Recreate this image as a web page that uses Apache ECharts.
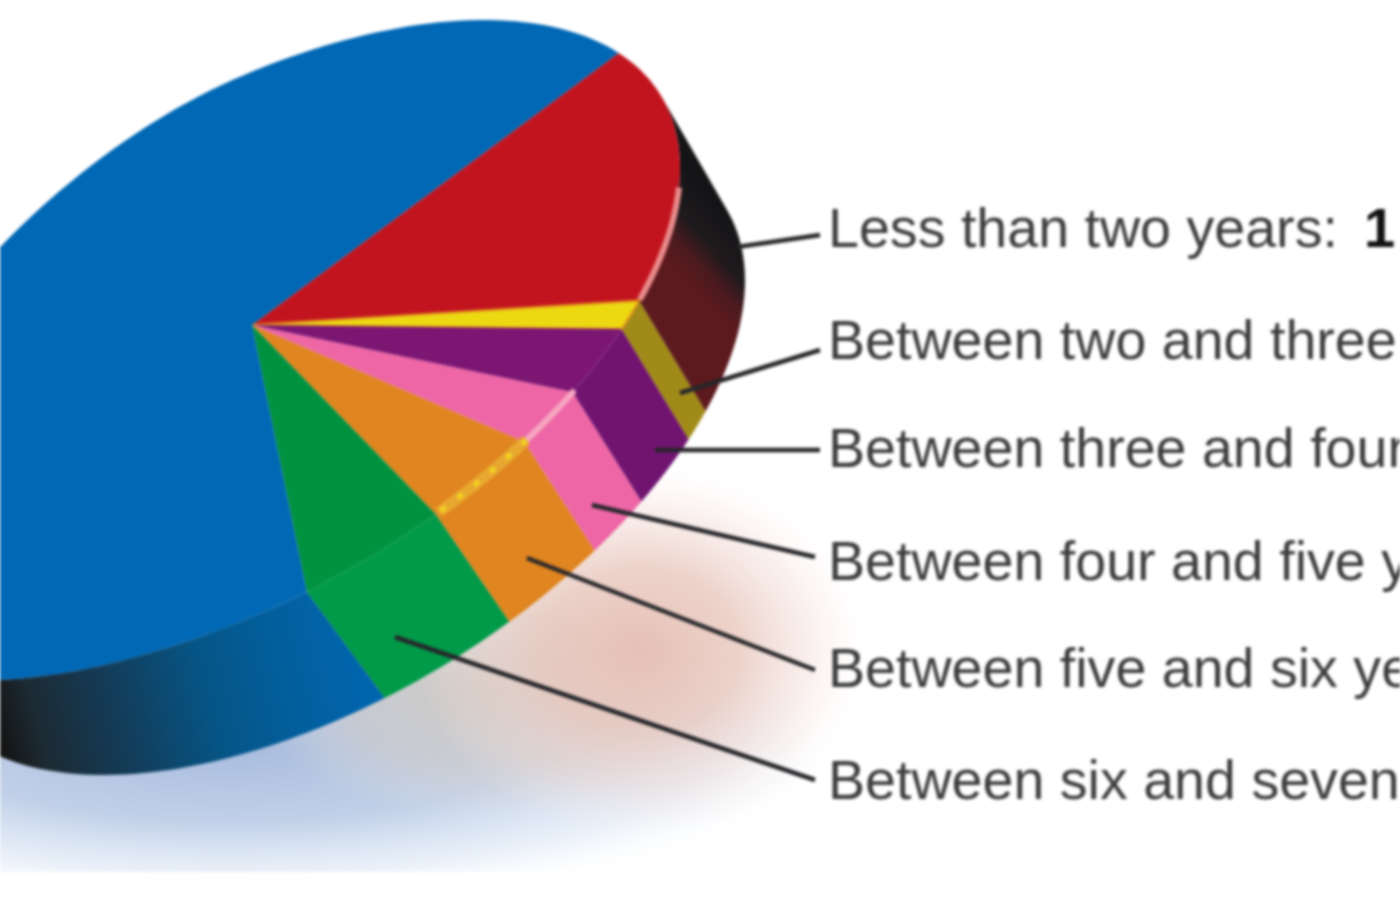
<!DOCTYPE html>
<html>
<head>
<meta charset="utf-8">
<style>html,body{margin:0;padding:0;background:#fff;overflow:hidden}#main{width:1400px;height:900px;filter:blur(1.4px)}</style>
<script src="https://cdn.jsdelivr.net/npm/echarts@6/dist/echarts.min.js"></script>
</head>
<body>
<div id="main"></div>
<script>
// Data (share of the pie, percent), clockwise from the red slice
var sliceNames = ['Less than two years','Between two and three','Between three and four','Between four and five','Between five and six','Between six and seven','Remainder'];
var sliceShares = [15.6, 1.4, 3.1, 2.5, 3.9, 5.0, 68.5];
// Label texts as far as they can be read before the picture's right edge
var labelTexts = ['Less than two years:','Between two and three','Between three and four','Between four and five y','Between five and six ye','Between six and seven'];
var firstValueText = '1';

// Styles and geometry (not data)
var topColors  = ['#c2141f','#ecd912','#7c1673','#ee66a6','#e0851f','#00923f','#0068b5'];
var wallColors = ['#5c1a1e','#a08a18','#701470','#ee66a6','#e0851f','#009a48','#0068b5'];
var rimColors  = ['#ea8a8a',null,null,'#f6a6c0','#e8a830',null,null];
var rimT = [[-4,-25],null,null,[-41,-50],[-50,-64],null,null];
var startT = 31, APEX = [252, 325];
var WALL_FROM = 17, WALL_TO = -163;
var TOP = {cx:250, cy:345, ax:430, ay:325, phi:33, kUp:62, kDn:30};
var BOT = {cx:330, cy:455, ax:415, ay:320, phi:33, kUp:0, kDn:0};
var leaderFrom = [[737,247],[680,393],[655,450],[592,505],[527,558],[395,637]];
var leaderTo   = [[820,235],[820,350],[820,450],[815,557],[815,670],[815,780]];
var baselines  = [232,344,452,565,672,784];

var R = Math.PI/180;
function pt(E, t){
  var c = Math.cos(t*R), k = Math.sin(t*R) > 0 ? E.kUp : E.kDn, m = Math.max(0,-c);
  return [E.cx + E.ax*c, E.cy - E.ay*Math.sin((t+E.phi)*R) + k*m*m];
}
function arc(E, a, b){
  var n = Math.max(2, Math.ceil(Math.abs(a-b)/1.5)), out = [];
  for (var i=0;i<=n;i++) out.push(pt(E, a+(b-a)*i/n));
  return out;
}
var total = sliceShares.reduce(function(s,v){return s+v;},0), acc = 0;
var sliceData = sliceShares.map(function(v,i){
  var a = startT - acc/total*360; acc += v;
  return [a, startT - acc/total*360, i];
});

function wallFill(i){
  if (i===0) return new echarts.graphic.LinearGradient(745,235,690,285,[
    {offset:0,color:'#141416'},{offset:.45,color:'#1f1a1d'},{offset:.72,color:'#4a1a1e'},{offset:1,color:'#5c1a1e'}],true);
  if (i===6) return new echarts.graphic.LinearGradient(0,740,383,640,[
    {offset:0,color:'#141414'},{offset:.1,color:'#1c2a33'},{offset:.3,color:'#133c58'},
    {offset:.55,color:'#055688'},{offset:.8,color:'#0261a2'},{offset:1,color:'#0067b2'}],true);
  return wallColors[i];
}

function mapPts(api, pts){ return pts.map(function(p){ return api.coord(p); }); }

var option = {
  animation:false,
  backgroundColor:'#fff',
  grid:{left:0,right:0,top:0,bottom:0},
  xAxis:{type:'value',min:0,max:1400,show:false},
  yAxis:{type:'value',min:0,max:900,inverse:true,show:false},
  series:[
    {type:'custom',silent:true,clip:true,z:1,data:[[0]],renderItem:function(p,api){
      function blob(x,y,sx,sy,col){
        var c = api.coord([x,y]);
        return {type:'circle',x:c[0],y:c[1],scaleX:sx,scaleY:sy,shape:{cx:0,cy:0,r:1},
          style:{fill:new echarts.graphic.RadialGradient(.5,.5,.5,col)}};
      }
      var a = api.coord([0,872]);
      return {type:'group',children:[
        blob(230,740,600,165,[{offset:0,color:'rgba(165,185,220,1)'},{offset:.5,color:'rgba(182,200,228,.85)'},{offset:.8,color:'rgba(210,224,242,.5)'},{offset:1,color:'rgba(235,242,250,0)'}]),
        blob(480,690,230,130,[{offset:0,color:'rgba(205,198,190,.9)'},{offset:.6,color:'rgba(212,205,198,.55)'},{offset:1,color:'rgba(230,225,220,0)'}]),
        blob(640,650,225,185,[{offset:0,color:'rgba(230,192,182,1)'},{offset:.45,color:'rgba(232,200,190,.8)'},{offset:.75,color:'rgba(240,215,208,.4)'},{offset:1,color:'rgba(250,235,230,0)'}]),
        {type:'rect',shape:{x:a[0],y:a[1],width:1400,height:40},style:{fill:'#fff'}}
      ]};
    }},
    {type:'custom',silent:true,clip:false,z:2,data:sliceData.slice().reverse(),renderItem:function(p,api){
      var a=Math.min(api.value(0),WALL_FROM), b=Math.max(api.value(1),WALL_TO), i=api.value(2);
      var poly = arc(TOP,a,b).concat(arc(BOT,b,a));
      return {type:'polygon',shape:{points:mapPts(api,poly)},style:{fill:wallFill(i)}};
    }},
    {type:'custom',silent:true,clip:false,z:3,data:sliceData,name:'share',renderItem:function(p,api){
      var a=api.value(0), b=api.value(1), i=api.value(2);
      var poly = [APEX].concat(arc(TOP,a,b));
      var kids = [{type:'polygon',shape:{points:mapPts(api,poly)},
        style:{fill:topColors[i],stroke:i===1?'#e2921e':null,lineWidth:i===1?2:0}}];
      if (rimColors[i]) {
        var rim = mapPts(api,arc(TOP,rimT[i][0],rimT[i][1]));
        kids.push({type:'polyline',shape:{points:rim},style:{fill:null,stroke:rimColors[i],lineWidth:i===4?11:6}});
        if (i===4) kids.push({type:'polyline',shape:{points:rim},style:{fill:null,stroke:'#f4d41e',lineWidth:5,lineDash:[6,15]}});
      }
      return {type:'group',children:kids};
    }},
    {type:'custom',silent:true,clip:false,z:4,data:labelTexts.map(function(t,i){return [i];}),renderItem:function(p,api){
      var i=api.value(0);
      return {type:'group',children:[
        {type:'line',shape:{x1:api.coord(leaderFrom[i])[0],y1:api.coord(leaderFrom[i])[1],x2:api.coord(leaderTo[i])[0],y2:api.coord(leaderTo[i])[1]},
          style:{stroke:'#26262a',lineWidth:4.5}},
        {type:'text',x:api.coord([828,0])[0],y:api.coord([0,baselines[i]])[1],
          style:{text:labelTexts[i],fill:'#3c3c3c',font:'55.6px "Liberation Sans", Arial, sans-serif',textAlign:'left',textVerticalAlign:'middle'}}
      ].concat(i===0?[{type:'text',x:api.coord([1364,0])[0],y:api.coord([0,baselines[i]])[1],
          style:{text:firstValueText,fill:'#111',font:'bold 56px "Liberation Sans", Arial, sans-serif',textAlign:'left',textVerticalAlign:'middle'}}]:[])};
    }}
  ]
};
echarts.init(document.getElementById('main'),null,{renderer:'canvas'}).setOption(option);
</script>
</body>
</html>
